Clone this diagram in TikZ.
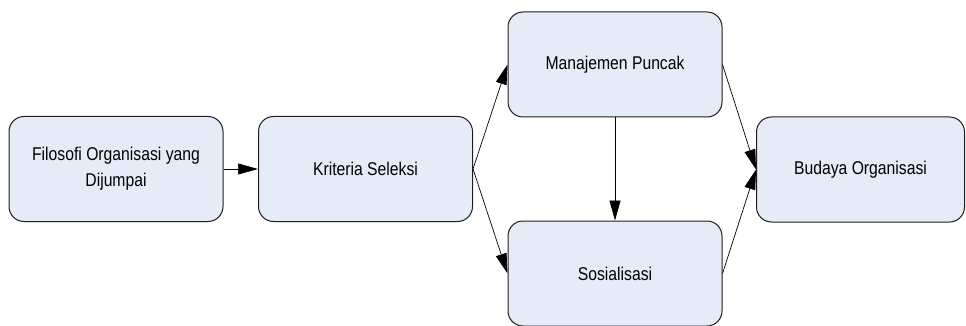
\documentclass[tikz,border=0pt]{standalone}
\usepackage{fontspec}
\setmainfont{Liberation Sans}[FakeStretch=0.85]
\usetikzlibrary{arrows.meta}
\definecolor{boxfill}{RGB}{230,236,247}
\definecolor{boxline}{RGB}{30,30,30}
\tikzset{
  stepbox/.style={draw=boxline, line width=1pt, fill=boxfill, rounded corners=15pt,
    minimum width=214pt, minimum height=105pt, align=center, inner sep=2pt,
    font=\fontsize{18.5pt}{25.7pt}\selectfont},
  conn/.style={draw=black, line width=0.7pt, -{Triangle[length=20pt,width=11pt]}}
}
\begin{document}
\begin{tikzpicture}[x=1pt,y=-1pt]
\useasboundingbox (0,0) rectangle (966,326);
\node[stepbox] (fil) at (116,169) {Filosofi Organisasi yang\\Dijumpai};
\node[stepbox] (kri) at (365.5,169) {Kriteria Seleksi};
\node[stepbox] (man) at (615,64.5) {Manajemen Puncak};
\node[stepbox] (sos) at (615,273.5) {Sosialisasi};
\node[stepbox, minimum width=208pt] (bud) at (860.5,169.5) {Budaya Organisasi};
\draw[conn] (fil.east) -- (kri.west);
\draw[conn] (kri.east) -- (man.west);
\draw[conn] (kri.east) -- (sos.west);
\draw[conn] (man.south) -- (sos.north);
\draw[conn] (man.east) -- (bud.west);
\draw[conn] (sos.east) -- (bud.west);
\end{tikzpicture}
\end{document}
